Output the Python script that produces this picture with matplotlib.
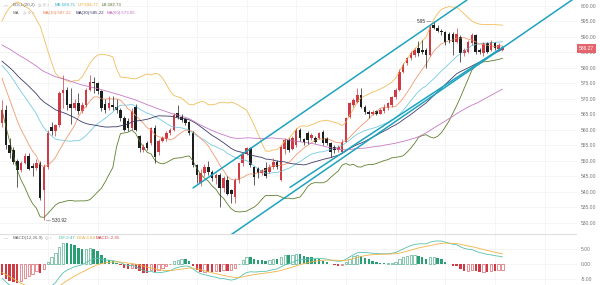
import matplotlib.pyplot as plt
import numpy as np
import pandas as pd

plt.rcParams['font.family'] = ['Liberation Sans', 'DejaVu Sans']

# closes before the visible window (only used to warm up the indicators)
prior_close = [592, 594, 593, 596, 597, 595, 593, 594, 596, 598,
               597, 595, 592, 593, 595, 594, 591, 590, 592, 594,
               593, 591, 589, 590, 592, 591, 588, 587, 589, 590,
               588, 586, 584, 585, 587, 586, 584, 583, 585, 586,
               584, 582, 583, 585, 586, 587, 585, 583, 584, 586,
               588, 589, 587, 584, 581, 578, 575, 572, 569, 565]

opens = [562.2, 566.5, 555.0, 553.5, 550.0, 547.1, 549.3, 551.7, 548.5, 547.6,
         549.3, 540.7, 548.0, 561.0, 559.5, 561.5, 572.0, 573.0, 568.5, 567.0,
         568.6, 566.0, 568.0, 573.0, 575.6, 575.0, 572.5, 568.5, 567.0, 568.0,
         567.5, 566.5, 563.8, 563.0, 560.6, 567.5, 557.9, 553.6, 555.7, 555.7,
         560.6, 553.0, 556.5, 557.0, 559.0, 560.0, 565.4, 564.3, 563.5, 562.5,
         559.0, 548.7, 542.8, 546.0, 548.0, 546.5, 544.4, 545.5, 541.2, 544.0,
         540.6, 538.5, 543.8, 549.2, 552.4, 554.1, 548.0, 547.6, 546.0, 547.6,
         546.5, 548.1, 549.8, 544.0, 554.0, 556.7, 554.0, 555.1, 560.0, 557.0,
         558.9, 557.3, 557.3, 557.3, 559.4, 557.3, 555.7, 554.6, 553.5, 553.0,
         556.2, 564.3, 568.0, 569.1, 571.3, 567.5, 565.9, 565.3, 566.0, 565.3,
         566.0, 567.0, 568.0, 570.7, 572.9, 578.8, 581.5, 583.1, 584.2, 586.3,
         585.8, 585.8, 584.2, 594.0, 593.0, 592.0, 591.7, 591.0, 591.0, 588.5,
         590.1, 584.7, 585.2, 588.0, 590.6, 585.8, 584.7, 587.9, 585.8, 587.9,
         586.0, 585.8]
highs = [569.7, 568.0, 557.5, 554.5, 550.5, 550.0, 552.5, 552.5, 549.5, 550.5,
         550.0, 549.0, 560.0, 562.5, 562.0, 572.5, 577.8, 574.0, 573.5, 570.0,
         572.0, 569.0, 573.5, 577.8, 577.0, 575.6, 573.0, 570.0, 571.0, 571.0,
         570.0, 567.0, 564.5, 564.0, 567.0, 568.5, 558.5, 555.5, 556.5, 561.0,
         561.5, 557.0, 558.0, 559.5, 560.5, 565.5, 568.0, 565.0, 564.0, 563.0,
         559.5, 549.0, 547.5, 549.0, 550.0, 547.0, 546.0, 546.0, 545.0, 545.0,
         541.0, 544.5, 549.5, 553.0, 554.6, 554.6, 548.5, 548.0, 547.5, 549.8,
         549.0, 550.8, 550.3, 555.0, 557.3, 557.5, 558.0, 560.5, 560.5, 557.5,
         559.5, 559.0, 558.0, 559.4, 560.0, 557.8, 556.0, 555.0, 555.0, 557.0,
         564.3, 569.0, 570.2, 573.4, 573.4, 568.0, 566.5, 566.5, 566.5, 567.0,
         568.5, 569.0, 571.0, 573.5, 579.5, 581.5, 583.5, 585.5, 586.5, 588.6,
         589.0, 586.5, 594.0, 595.0, 594.0, 592.5, 592.0, 591.5, 591.5, 592.8,
         590.5, 586.5, 589.0, 591.2, 591.0, 586.3, 588.5, 588.5, 589.0, 588.5,
         588.0, 587.0]
lows = [561.0, 554.0, 551.0, 549.0, 541.7, 546.5, 549.0, 547.0, 545.0, 547.0,
        537.4, 530.92, 547.5, 558.5, 558.0, 561.0, 567.0, 566.5, 562.0, 566.5,
        565.0, 565.5, 567.5, 572.5, 572.0, 571.5, 566.0, 565.5, 566.5, 566.5,
        565.5, 563.0, 559.5, 559.5, 560.0, 559.5, 553.0, 553.0, 553.5, 555.0,
        549.3, 552.0, 556.0, 556.5, 558.5, 559.5, 563.5, 562.5, 561.5, 558.5,
        548.0, 542.8, 542.0, 545.0, 545.5, 543.5, 542.5, 535.2, 540.0, 539.0,
        536.3, 536.5, 543.0, 548.5, 552.0, 548.0, 542.2, 544.5, 545.5, 544.5,
        546.0, 547.5, 547.5, 543.5, 552.4, 553.0, 553.5, 554.6, 556.5, 555.0,
        555.5, 556.7, 555.7, 557.0, 555.0, 555.0, 551.4, 552.5, 553.0, 552.5,
        556.0, 563.7, 567.5, 568.6, 567.0, 565.3, 563.7, 564.8, 564.8, 565.0,
        565.5, 566.5, 567.5, 570.0, 572.5, 578.5, 581.0, 582.5, 583.5, 584.0,
        584.5, 580.0, 583.8, 592.5, 591.5, 590.5, 587.5, 588.0, 584.2, 588.0,
        582.0, 584.0, 584.8, 587.5, 584.5, 584.5, 584.0, 584.7, 585.5, 585.8,
        585.5, 585.3]
closes = [566.5, 555.0, 552.5, 549.8, 547.1, 549.3, 551.7, 547.5, 547.6, 549.3,
          538.0, 548.0, 559.0, 559.5, 561.5, 572.0, 573.0, 568.0, 567.0, 568.6,
          566.0, 568.0, 573.0, 575.6, 575.0, 572.5, 567.0, 566.5, 568.6, 567.5,
          566.5, 563.8, 560.0, 560.6, 566.0, 560.0, 554.1, 554.6, 554.1, 560.6,
          551.4, 556.5, 557.5, 559.0, 560.0, 564.9, 564.3, 563.2, 562.2, 559.0,
          548.7, 545.5, 546.0, 548.1, 546.5, 544.4, 545.5, 541.2, 544.4, 539.5,
          539.5, 543.8, 549.2, 552.4, 554.1, 548.7, 544.9, 546.0, 547.1, 545.0,
          548.1, 549.8, 548.1, 554.6, 556.7, 553.5, 557.3, 560.0, 557.3, 556.2,
          556.7, 558.4, 556.2, 558.9, 555.7, 555.7, 553.0, 553.5, 554.6, 556.2,
          563.7, 568.6, 569.6, 571.3, 567.5, 565.9, 565.3, 565.9, 565.3, 566.5,
          567.5, 568.6, 570.7, 572.9, 578.8, 580.9, 583.1, 584.7, 585.8, 584.7,
          585.2, 584.2, 593.3, 593.0, 592.0, 591.7, 588.5, 589.0, 588.5, 591.0,
          584.7, 585.8, 588.5, 590.6, 585.2, 585.2, 587.9, 585.2, 588.5, 586.3,
          587.4, 586.27]

# hand-drawn trend lines: (bar, price) end points
channel_x = [[50.0, 121.7], [59.7, 150.0], [75.4, 131.2]]
channel_y = [[541.3, 601.9], [526.0, 602.6], [541.5, 586.8]]

price_ticks = [600, 595, 590, 585, 580, 575, 570, 565, 560, 555, 550, 545, 540, 535, 530]
macd_ticks = [5, 0, -5]
last_price = 586.27
high_label, high_bar = '595', 113
low_label, low_bar = '530.92', 11

RED = '#cf3a44'
BLACK = '#1e1e1e'
GREEN = '#2b9e76'

n_prior = len(prior_close)
s = pd.Series(prior_close + closes, dtype=float)
ma10 = s.rolling(10).mean().iloc[n_prior:].values
ma30 = s.rolling(30).mean().iloc[n_prior:].values
ma60 = s.rolling(60, min_periods=40).mean().iloc[n_prior:].values
mb = s.rolling(20).mean()
sd = s.rolling(20).std(ddof=0)
up = (mb + 2 * sd).iloc[n_prior:].values
lb = (mb - 2 * sd).iloc[n_prior:].values
mb = mb.iloc[n_prior:].values
dif = s.ewm(span=12, adjust=False).mean() - s.ewm(span=26, adjust=False).mean()
dea = dif.ewm(span=9, adjust=False).mean()
hist_all = 2 * (dif - dea)
hist = hist_all.iloc[n_prior:].values
prev_hist = hist_all.iloc[n_prior - 1:-1].values
dif = dif.iloc[n_prior:].values
dea = dea.iloc[n_prior:].values

x = np.arange(len(closes))

fig = plt.figure(figsize=(6, 2.85), dpi=100)
W, H = 600, 285
ax = fig.add_axes([0, 51 / H, 577 / W, 234 / H])
axm = fig.add_axes([0, 0, 577 / W, 51 / H])

for a in (ax, axm):
    for sp in a.spines.values():
        sp.set_visible(False)
    a.set_xlim(-0.52, 150.5)
    a.set_xticks([12, 25, 38, 51, 64, 77, 90, 103, 116, 129, 142])
    a.tick_params(axis='x', length=0, labelbottom=False)
    a.yaxis.tick_right()
    a.tick_params(axis='y', length=0, pad=3, labelsize=3.6, labelcolor='#777777')
    a.grid(True, color='#f2f2f2', lw=0.5)
    a.set_axisbelow(True)
    a.axvline(150.5, color='#dddddd', lw=0.6)

ax.set_ylim(526.45, 601.9)
ax.set_yticks(price_ticks)
ax.set_yticklabels([f'{t:.2f}' for t in price_ticks])
axm.set_ylim(-7.2, 10.3)
axm.set_yticks(macd_ticks)
axm.set_yticklabels([f'{t:.2f}' for t in macd_ticks])
axm.axhline(10.3, color='#dddddd', lw=0.8)

# indicator lines
ax.plot(x, up, color='#f2bd5a', lw=0.6)
ax.plot(x, lb, color='#5f7f2e', lw=0.6)
ax.plot(x, mb, color='#76cbe3', lw=0.6)
ax.plot(x, ma10, color='#f19a72', lw=0.6)
ax.plot(x, ma30, color='#3b3b68', lw=0.6)
ax.plot(x, ma60, color='#c67ac6', lw=0.6)

# candles
for i in x:
    o, h, l, c = opens[i], highs[i], lows[i], closes[i]
    col = RED if c >= o else BLACK
    ax.vlines(i, l, h, color=col, lw=0.5)
    ax.bar(i, max(abs(c - o), 0.2), bottom=min(o, c), width=0.68, color=col, lw=0)

# trend channel
for cx, cy in zip(channel_x, channel_y):
    ax.plot(cx, cy, color='#1ea3bf', lw=1.1, solid_capstyle='round')

ax.annotate(high_label + ' —', xy=(high_bar - 0.6, 595), fontsize=3.4, color='#333333',
            ha='right', va='center')
ax.annotate('— ' + low_label, xy=(low_bar + 0.5, 530.92), fontsize=3.4, color='#333333',
            ha='left', va='center')

ax.annotate(f'{last_price:.2f}', xy=(1.0, last_price), xycoords=('axes fraction', 'data'),
            xytext=(1.5, 0), textcoords='offset points', fontsize=3.6, color='white',
            ha='left', va='center',
            bbox=dict(boxstyle='square,pad=0.35', fc='#e5646c', ec='none'))

# MACD histogram: hollow when rising, filled when falling
for i in x:
    v = hist[i]
    col = GREEN if v >= 0 else RED
    if v >= prev_hist[i]:
        axm.bar(i, v, width=0.62, facecolor='white', edgecolor=col, lw=0.4)
    else:
        axm.bar(i, v, width=0.62, color=col, lw=0)
axm.plot(x, dif, color='#55c2ae', lw=0.6)
axm.plot(x, dea, color='#f0b445', lw=0.6)


def ftext(px, py, txt, col, size=3.2):
    fig.text(px / W, 1 - py / H, txt, color=col, fontsize=size, va='center', ha='left')


ftext(4, 5, '—', '#888888')
ftext(13, 5, 'BOLL(20,2)', '#666666')
ftext(38, 5, '◎ ⚙ ×', '#bbbbbb', 2.8)
ftext(55, 5, 'MB:588.75', '#3fb0c9')
ftext(78, 5, 'UP:594.77', '#e8a830')
ftext(102, 5, 'LB:582.73', '#556b2f')
ftext(13, 13, 'MA', '#666666')
ftext(23, 13, '◎ ⚙ ×', '#bbbbbb', 2.8)
ftext(43, 13, 'MA(10):587.22', '#ee8455')
ftext(76, 13, 'MA(30):585.22', '#3b3b68')
ftext(107, 13, 'MA(60):573.05', '#c06ac0')

ftext(4, 238, '—', '#888888')
ftext(13, 238, 'MACD(12,26,9)', '#666666')
ftext(45, 238, '◎ ×', '#bbbbbb', 2.8)
ftext(59, 238, 'DIF:2.47', '#3fb8a0')
ftext(77, 238, 'DEA:3.64', '#e8a830')
ftext(96, 238, 'MACD:-2.35', '#d04050')

fig.savefig('out.png', dpi=100, facecolor='white')
